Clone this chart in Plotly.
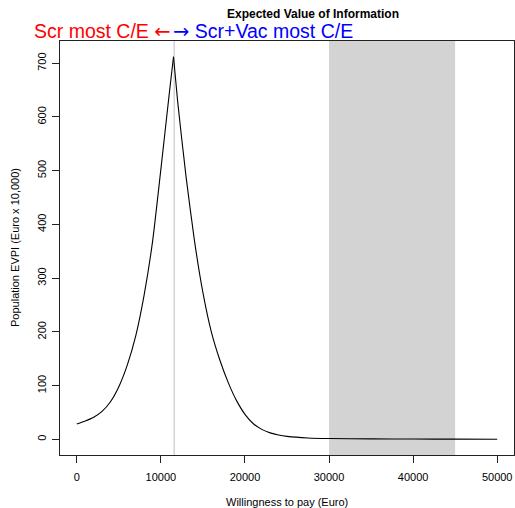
import plotly.graph_objects as go

# Willingness to pay (Euro) and population EVPI (Euro x 10,000)
wtp = [0, 1000, 2000, 3000, 4000, 5000, 6000, 7000, 8000, 9000, 10000, 11000, 11500,
       12000, 13000, 14000, 15000, 16000, 17000, 18000, 19000, 20000, 21000, 22000,
       23000, 24000, 25000, 27500, 30000, 35000, 40000, 45000, 50000]
evpi = [28.5, 34, 41, 52, 70, 98, 138, 192, 268, 367, 503, 644, 712,
        628, 488, 369, 273, 200, 148, 106, 72, 46.5, 29, 18.5,
        12, 8, 5.5, 2.5, 1.5, 0.8, 0.5, 0.3, 0.2]
peak_idx = evpi.index(max(evpi))

shade_range = [30000, 45000]
switch_wtp = 11580

x_ticks = [0, 10000, 20000, 30000, 40000, 50000]
y_ticks = [0, 100, 200, 300, 400, 500, 600, 700]

W, H = 515, 508
L, R, T, B = 60, 1, 41, 53
pw, ph = W - L - R, H - T - B

fig = go.Figure()
line_style = dict(color="black", width=1.1, shape="spline", smoothing=0.6)
fig.add_trace(go.Scatter(x=wtp[:peak_idx + 1], y=evpi[:peak_idx + 1], mode="lines",
                         line=line_style, showlegend=False, hoverinfo="skip"))
fig.add_trace(go.Scatter(x=wtp[peak_idx:], y=evpi[peak_idx:], mode="lines",
                         line=line_style, showlegend=False, hoverinfo="skip"))

fig.add_shape(type="rect", xref="x", yref="paper", x0=shade_range[0], x1=shade_range[1],
              y0=0, y1=1, fillcolor="#D3D3D3", line=dict(width=0), layer="below")
fig.add_shape(type="line", xref="x", yref="paper", x0=switch_wtp, x1=switch_wtp,
              y0=0, y1=1, line=dict(color="#BEBEBE", width=1), layer="below")

font_family = "Liberation Sans, Arial, sans-serif"

fig.update_layout(
    width=W, height=H,
    margin=dict(l=L, r=R, t=T, b=B, autoexpand=False),
    paper_bgcolor="white", plot_bgcolor="white",
    font=dict(family=font_family, color="black", size=11),
    title=dict(text="<b>Expected Value of Information</b>", x=(L + pw / 2) / W, xref="paper",
               xanchor="center", y=1 - 14 / H, yanchor="middle", font=dict(size=12)),
    xaxis=dict(range=[-2000, 52000], tickvals=x_ticks, ticktext=[str(v) for v in x_ticks],
               ticks="outside", ticklen=7, tickcolor="#222", showgrid=False, zeroline=False,
               showline=True, linecolor="#222", linewidth=1, mirror=True, automargin=False,
               ticklabelstandoff=5, tickfont=dict(size=11)),
    yaxis=dict(range=[-29.2, 741.4], tickvals=y_ticks, ticktext=[str(v) for v in y_ticks],
               ticks="outside", ticklen=7, tickcolor="#222", showgrid=False, zeroline=False,
               showline=True, linecolor="#222", linewidth=1, mirror=True, tickangle=-90,
               automargin=False, ticklabelstandoff=2, tickfont=dict(size=11)),
)

# axis titles
fig.add_annotation(text="Willingness to pay (Euro)", xref="paper", yref="paper",
                   x=0.5, y=-(501.5 - T - ph) / ph, xanchor="center", yanchor="middle",
                   showarrow=False, font=dict(size=11))
fig.add_annotation(text="Population EVPI (Euro x 10,000)", xref="paper", yref="paper",
                   x=-(L - 15) / pw, y=0.5, xanchor="center", yanchor="middle", textangle=-90,
                   showarrow=False, font=dict(size=11))

# subtitle
sub_y = 1 + (T - 32) / ph
fig.add_annotation(text='Scr most C/E <span style="font-family:DejaVu Sans">←</span>',
                   xref="paper", yref="paper",
                   x=(173 - L) / pw, y=sub_y, xanchor="right", yanchor="middle",
                   showarrow=False, font=dict(size=19.5, color="red", family=font_family))
fig.add_annotation(text='<span style="font-family:DejaVu Sans">→</span> Scr+Vac most C/E',
                   xref="paper", yref="paper",
                   x=(171 - L) / pw, y=sub_y, xanchor="left", yanchor="middle",
                   showarrow=False, font=dict(size=19.5, color="blue", family=font_family))

fig.write_html("out.html", config={"displayModeBar": False},
               post_script="document.body.style.margin='0px';document.body.style.padding='0px';")
